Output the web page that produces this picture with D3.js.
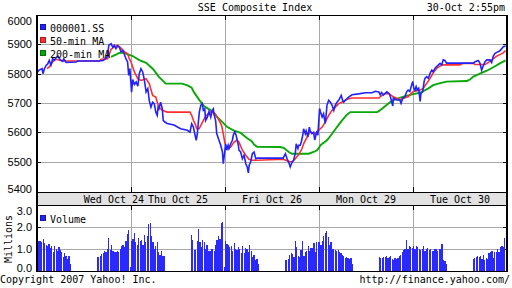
<!DOCTYPE html>
<html><head><meta charset="utf-8">
<script src="https://cdn.jsdelivr.net/npm/d3@7"></script>
<style>body{margin:0;background:#fff}svg{display:block}</style>
</head><body>
<svg id="c" width="512" height="288"></svg>
<script>
const title = "SSE Composite Index";
const stamp = "30-Oct 2:55pm";
const dayLabels = ["Wed Oct 24","Thu Oct 25","Fri Oct 26","Mon Oct 29","Tue Oct 30"];
const dayLabelAt = [270,495,825,1155,1485];     // trading minutes since Wed 9:30 (lunch included)
const dayBreaks = [330,660,990,1320];
const priceTicks = [5400,5500,5600,5700,5800,5900,6000];
const volTicks = [0,1,2,3];
const volTickLabels = ["0.0","1.0","2.0","3.0"];
const seriesNames = ["000001.SS","50-min MA","200-min MA"];

// [trading minute, index value]
const price = [[2,5806],[7,5812],[18,5817],[21,5800],[26,5817],[32,5828],[38,5834],[43,5845],[49,5829],[55,5851],[61,5846],[67,5855],[74,5860],[81,5848],[90,5842],[94,5850],[102,5838],[137,5840],[144,5843],[219,5843],[232,5845],[242,5852],[248,5862],[252,5897],[260,5902],[266,5890],[271,5897],[277,5885],[283,5894],[289,5891],[295,5874],[301,5879],[306,5868],[312,5851],[318,5840],[322,5794],[326,5817],[332,5737],[336,5780],[342,5763],[348,5772],[354,5757],[359,5800],[365,5817],[371,5806],[377,5778],[383,5738],[389,5749],[394,5709],[400,5686],[406,5703],[412,5697],[417,5669],[422,5658],[425,5685],[428,5680],[434,5703],[440,5680],[443,5641],[448,5636],[457,5630],[481,5625],[504,5612],[528,5607],[537,5601],[543,5629],[549,5618],[555,5590],[559,5573],[563,5596],[566,5630],[570,5670],[575,5692],[580,5698],[584,5675],[589,5680],[592,5641],[598,5652],[604,5671],[610,5652],[615,5675],[619,5680],[621,5663],[627,5641],[631,5596],[635,5584],[641,5567],[645,5556],[651,5533],[654,5493],[659,5533],[662,5561],[666,5539],[671,5556],[674,5545],[680,5561],[686,5573],[689,5590],[694,5601],[699,5590],[703,5573],[707,5556],[709,5539],[715,5533],[721,5510],[727,5522],[733,5493],[738,5482],[742,5462],[745,5488],[750,5499],[756,5527],[762,5533],[768,5510],[773,5512],[864,5512],[872,5527],[878,5510],[884,5497],[889,5482],[895,5497],[901,5505],[907,5530],[910,5561],[916,5545],[919,5556],[924,5556],[928,5568],[933,5590],[936,5612],[942,5595],[945,5605],[951,5584],[956,5618],[959,5605],[965,5596],[971,5600],[975,5574],[979,5590],[983,5605],[986,5590],[992,5681],[995,5670],[1001,5652],[1006,5663],[1012,5630],[1016,5670],[1018,5692],[1024,5709],[1030,5703],[1036,5692],[1042,5675],[1047,5692],[1053,5703],[1059,5709],[1065,5720],[1068,5726],[1073,5709],[1077,5703],[1082,5709],[1088,5714],[1094,5720],[1106,5728],[1129,5731],[1153,5735],[1176,5735],[1188,5740],[1200,5738],[1205,5728],[1210,5736],[1216,5727],[1228,5738],[1235,5733],[1239,5727],[1245,5705],[1249,5690],[1251,5716],[1263,5710],[1274,5710],[1278,5699],[1284,5716],[1292,5722],[1298,5739],[1303,5744],[1309,5739],[1315,5761],[1319,5773],[1323,5750],[1327,5744],[1331,5756],[1335,5744],[1340,5750],[1345,5705],[1348,5733],[1354,5739],[1359,5773],[1362,5784],[1368,5790],[1374,5784],[1380,5801],[1386,5812],[1391,5807],[1397,5818],[1403,5824],[1415,5835],[1421,5830],[1426,5847],[1432,5845],[1438,5836],[1532,5836],[1538,5841],[1549,5845],[1555,5836],[1561,5812],[1565,5823],[1573,5841],[1579,5847],[1590,5847],[1596,5838],[1602,5860],[1608,5869],[1619,5875],[1625,5878],[1637,5892],[1645,5894]];

const ma50 = [[35,5817],[43,5823],[49,5831],[55,5840],[61,5846],[67,5849],[90,5843],[219,5843],[225,5849],[248,5851],[260,5883],[271,5891],[283,5897],[295,5887],[306,5876],[318,5868],[324,5851],[330,5840],[342,5806],[354,5783],[365,5777],[383,5783],[394,5766],[406,5726],[417,5720],[422,5703],[428,5686],[440,5675],[457,5669],[537,5669],[543,5658],[549,5641],[555,5629],[561,5612],[569,5612],[578,5629],[590,5652],[601,5664],[613,5672],[625,5664],[636,5647],[648,5624],[654,5595],[659,5567],[662,5556],[671,5544],[680,5550],[692,5567],[701,5573],[709,5567],[721,5539],[733,5522],[744,5508],[756,5505],[773,5505],[864,5508],[884,5501],[895,5499],[907,5510],[919,5524],[930,5544],[936,5561],[948,5584],[959,5601],[977,5595],[989,5607],[1001,5618],[1012,5635],[1024,5658],[1036,5675],[1047,5686],[1059,5698],[1077,5706],[1088,5713],[1106,5717],[1200,5717],[1211,5726],[1223,5732],[1235,5732],[1251,5721],[1263,5716],[1274,5710],[1286,5716],[1303,5721],[1321,5739],[1345,5744],[1356,5750],[1368,5767],[1380,5784],[1391,5803],[1403,5818],[1415,5826],[1421,5830],[1485,5830],[1495,5835],[1532,5835],[1538,5831],[1573,5831],[1590,5842],[1602,5851],[1614,5860],[1625,5865],[1637,5871],[1645,5879]];

const ma200 = [[260,5857],[277,5865],[289,5871],[303,5871],[312,5868],[336,5860],[359,5846],[383,5837],[406,5817],[411,5811],[428,5789],[446,5772],[452,5766],[510,5766],[528,5760],[543,5752],[551,5737],[570,5710],[586,5690],[610,5675],[621,5665],[633,5652],[651,5635],[668,5618],[692,5606],[715,5598],[738,5580],[754,5570],[762,5558],[773,5551],[853,5550],[866,5547],[884,5533],[895,5527],[954,5527],[971,5533],[983,5539],[989,5546],[995,5556],[1018,5573],[1036,5595],[1053,5618],[1071,5641],[1088,5660],[1100,5669],[1194,5669],[1200,5672],[1223,5690],[1240,5703],[1251,5710],[1286,5722],[1321,5730],[1345,5735],[1374,5750],[1391,5761],[1415,5768],[1438,5773],[1509,5775],[1520,5780],[1532,5790],[1555,5800],[1579,5810],[1602,5822],[1625,5835],[1645,5845]];

// 5-minute volume (millions) per trading session
const sessionStart = [0,210,330,540,660,870,990,1200,1320,1530];
const volWedAM = [1.41,1.38,1.36,1.33,1.44,1.26,1.2,1.14,1.23,1.05,1.15,0.88,1.12,1.0,0.92,1.1,0.95,0.85,0.62,0.8,0.7,0.55,0.67,0.32];
const volWedPM = [0.62,0.65,0.68,0.77,0.8,0.9,0.85,1.0,1.5,0.95,1.2,0.9,0.85,0.88,0.9,0.85,1.0,1.15,1.2,1.1,1.35,1.7,1.85,0.2];
const volThuAM = [1.35,1.45,1.75,1.3,1.2,1.5,1.35,1.4,1.2,1.65,1.3,1.6,2.15,2.2,1.6,1.3,1.0,1.15,1.3,0.85,0.75,0.9,0.7,0.7];
const volThuPM = [1.65,1.4,0.95,0.95,1.35,1.9,1.3,1.1,1.4,1.3,1.0,1.2,0.9,0.9,1.0,1.0,0.9,1.2,1.4,1.6,1.45,2.2,2.25,0.2];
const volFriAM = [1.36,1.25,1.2,1.1,1.15,0.9,1.26,1.0,0.95,1.1,1.0,0.83,1.15,0.8,1.03,1.0,0.85,1.2,0.9,0.65,0.75,0.5,0.55,0.3];
const volFriPM = [0.5,0.5,0.55,0.73,0.83,0.77,0.65,1.38,1.1,0.68,0.65,0.95,1.38,0.68,0.88,0.92,1.14,0.9,1.03,1.03,1.26,0.88,1.3,1.33];
const volMonAM = [1.33,1.2,1.35,1.6,1.75,1.82,1.55,1.2,1.3,1.0,1.0,0.95,0.9,0.95,0.85,0.8,0.75,0.7,0.6,0.65,0.6,0.55,0.6,0.3];
const volMonPM = [0.65,0.6,0.6,0.65,0.65,0.7,0.6,0.65,0.7,0.55,0.5,0.6,0.55,0.6,0.7,0.75,0.85,0.95,1.0,1.4,1.0,1.15,1.1,1.05];
const volTueAM = [1.15,1.0,1.15,1.1,1.0,0.95,1.0,1.15,0.9,1.0,1.05,0.95,1.0,0.9,0.9,1.0,1.0,0.9,1.0,1.0,1.25,0.5,0.45,0.3];
const volTuePM = [0.55,0.6,0.65,0.7,0.65,0.7,0.55,0.75,0.5,0.6,0.55,0.8,0.85,0.9,0.6,0.85,0.85,1.0,0.85,1.1,1.15,1.1,1.5,0.45];
const volSessions = [volWedAM,volWedPM,volThuAM,volThuPM,volFriAM,volFriPM,volMonAM,volMonPM,volTueAM,volTuePM];

const BLUE="#2222ff", RED="#ff2e2e", GREEN="#08a808", GRID="#a8a8a8";
const MONO="'DejaVu Sans Mono', monospace", SANS="'Liberation Sans', Arial, sans-serif";
const L=37,R=507,T=15,B=192,VT=205,VB=271;

const svg = d3.select("#c");
const x = d3.scaleLinear().domain([0,1650]).range([L,R]);
const y = d3.scaleLinear().domain([5400,6000]).range([191,T]);
const v = d3.scaleLinear().domain([0,3]).range([VB,VT]);
const px = n => Math.round(n)+0.5;

// date band
svg.append("rect").attr("x",L).attr("y",B).attr("width",R-L).attr("height",VT-B).attr("fill","#e2e2e2");

const g = svg.append("g").attr("shape-rendering","crispEdges");
const hMain = priceTicks.filter(t=>t>5400&&t<6000);
g.selectAll(".hg").data(hMain).join("line").attr("x1",L).attr("x2",R)
  .attr("y1",d=>px(y(d))).attr("y2",d=>px(y(d))).attr("stroke",GRID);
const hVol = volTicks.filter(t=>t>0&&t<3);
g.selectAll(".hv").data(hVol).join("line").attr("x1",L).attr("x2",R)
  .attr("y1",d=>px(v(d))).attr("y2",d=>px(v(d))).attr("stroke",GRID);
[[T,B],[VT,VB]].forEach(([a,b])=>{
  g.append("g").selectAll("line").data(dayBreaks).join("line")
   .attr("x1",d=>px(x(d))).attr("x2",d=>px(x(d))).attr("y1",a).attr("y2",b).attr("stroke",GRID);
});
const tk = g.append("g").attr("stroke","#000");
[[T,B],[VT,VB]].forEach(([a,b])=>{
  dayBreaks.forEach(d=>{
    tk.append("line").attr("x1",px(x(d))).attr("x2",px(x(d))).attr("y1",a).attr("y2",a+5);
    tk.append("line").attr("x1",px(x(d))).attr("x2",px(x(d))).attr("y1",b-5).attr("y2",b);
  });
});
hMain.map(y).concat(hVol.map(v)).forEach(yy=>{
  tk.append("line").attr("x1",L).attr("x2",L+4).attr("y1",px(yy)).attr("y2",px(yy));
  tk.append("line").attr("x1",R-4).attr("x2",R).attr("y1",px(yy)).attr("y2",px(yy));
});

// volume bars
const bars = [];
volSessions.forEach((arr,s)=>arr.forEach((val,i)=>bars.push({t:sessionStart[s]+5*i,val})));
svg.append("g").attr("shape-rendering","crispEdges").selectAll("rect").data(bars).join("rect")
  .attr("x",d=>x(d.t)).attr("width",d=>(x(d.t+5)-x(d.t))*0.85)
  .attr("y",d=>v(d.val)).attr("height",d=>VB-v(d.val)).attr("fill","#2a2aff");

// lines
const line = d3.line().x(d=>x(d[0])).y(d=>y(d[1]));
const lines = svg.append("g").attr("fill","none").attr("stroke-linejoin","miter");
lines.append("path").attr("d",line(ma200)).attr("stroke",GREEN).attr("stroke-width",1.9);
lines.append("path").attr("d",line(ma50)).attr("stroke",RED).attr("stroke-width",1.6);
lines.append("path").attr("d",line(price)).attr("stroke",BLUE).attr("stroke-width",1.6);

// frames
const fr = svg.append("g").attr("shape-rendering","crispEdges").attr("stroke","#000").attr("fill","none");
fr.append("line").attr("x1",L).attr("x2",R).attr("y1",T+0.5).attr("y2",T+0.5);
fr.append("line").attr("x1",L).attr("x2",R).attr("y1",B+0.5).attr("y2",B+0.5);
fr.append("line").attr("x1",L).attr("x2",R).attr("y1",VT+0.5).attr("y2",VT+0.5);
fr.append("line").attr("x1",L).attr("x2",R+1).attr("y1",VB+0.5).attr("y2",VB+0.5);
fr.append("line").attr("x1",L).attr("x2",L).attr("y1",T).attr("y2",VB+1).attr("stroke-width",2);
fr.append("line").attr("x1",R).attr("x2",R).attr("y1",T).attr("y2",VB+1).attr("stroke-width",2);

// texts
const txt = (xx,yy,s,opts={})=>svg.append("text").attr("x",xx).attr("y",yy).text(s)
  .attr("font-family",opts.f||MONO).attr("font-size",opts.s||10).attr("fill","#000")
  .attr("text-anchor",opts.a||"start");
txt(255,11,title,{a:"middle"});
txt(505,11,stamp,{a:"end"});
txt(0,283,"Copyright 2007 Yahoo! Inc.");
txt(510,283,"http://finance.yahoo.com/",{a:"end"});

svg.append("g").selectAll("text").data(dayLabels).join("text")
  .attr("x",(d,i)=>x(dayLabelAt[i])).attr("y",202.5).attr("text-anchor","middle")
  .attr("font-family",MONO).attr("font-size",10).text(d=>d);

svg.append("g").selectAll("text").data(priceTicks).join("text")
  .attr("x",32).attr("y",d=>Math.min(Math.max(y(d),T+6),B-2.5)+3.9)
  .attr("text-anchor","end").attr("font-family",SANS).attr("font-size",11).text(d=>d);

svg.append("g").selectAll("text").data(volTicks).join("text")
  .attr("x",32).attr("y",d=>Math.min(Math.max(v(d),VT+6),VB-2.5)+3.9)
  .attr("text-anchor","end").attr("font-family",SANS).attr("font-size",11)
  .text((d,i)=>volTickLabels[i]);

svg.append("text").attr("transform","translate(11.5,239) rotate(-90)")
  .attr("text-anchor","middle").attr("font-family",MONO).attr("font-size",10).text("Millions");

// legends
const leg = [[BLUE,seriesNames[0]],[RED,seriesNames[1]],[GREEN,seriesNames[2]]];
leg.forEach(([c,n],i)=>{
  svg.append("rect").attr("x",40.5).attr("y",24.5+13*i).attr("width",5).attr("height",5)
    .attr("fill",c).attr("stroke",d3.color(c).darker(1.2)).attr("shape-rendering","crispEdges");
  txt(50,32.3+13*i,n);
});
svg.append("rect").attr("x",40.5).attr("y",215.5).attr("width",5).attr("height",5)
  .attr("fill",BLUE).attr("stroke",d3.color(BLUE).darker(1.2)).attr("shape-rendering","crispEdges");
txt(50,222.5,"Volume");
</script>
</body></html>
